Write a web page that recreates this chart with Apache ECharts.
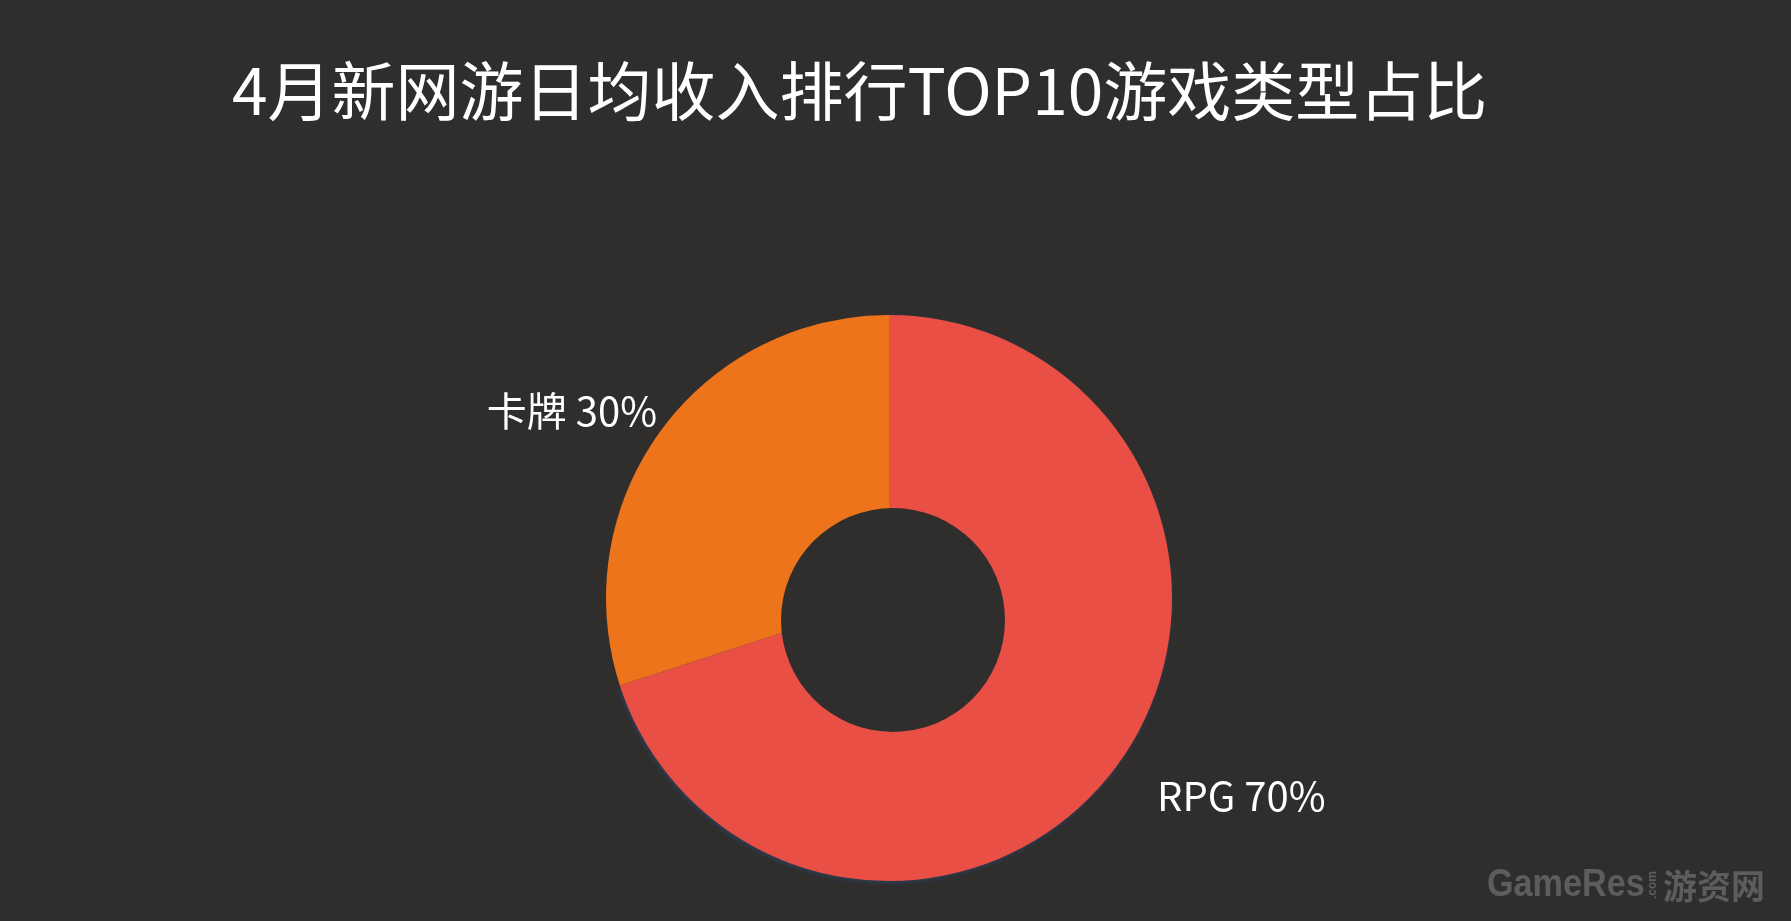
<!DOCTYPE html>
<html>
<head>
<meta charset="utf-8">
<style>
html,body{margin:0;padding:0;background:#302e2d;}
#main{width:1791px;height:921px;}
</style>
<script src="https://cdn.jsdelivr.net/npm/echarts@6/dist/echarts.min.js"></script>
</head>
<body>
<div id="main"></div>
<script>
const titleText = '4月新网游日均收入排行TOP10游戏类型占比';
const categories = ['RPG', '卡牌'];
const shares = [70, 30];
const colors = ['#e94f45', '#ee741c'];
const holeValue = [1];

const BG = '#302e2d';
const chart = echarts.init(document.getElementById('main'));
const FONT = '"Microsoft YaHei","Noto Sans CJK SC","Noto Sans",sans-serif';

chart.setOption({
  backgroundColor: BG,
  animation: false,
  title: {
    text: titleText,
    left: 227,
    top: 54,
    textStyle: {color: '#ffffff', fontSize: 64, fontWeight: 'normal', fontFamily: FONT}
  },
  series: [{
    type: 'pie',
    center: [889, 598],
    radius: [0, 283],
    startAngle: 90,
    clockwise: true,
    z: 2,
    data: categories.map((c, i) => ({
      name: c,
      value: shares[i],
      itemStyle: i === 0
        ? {color: colors[i], shadowBlur: 4, shadowColor: 'rgba(45,65,95,0.85)', shadowOffsetX: -1, shadowOffsetY: 2}
        : {color: colors[i]}
    })),
    label: {
      show: true,
      position: 'outside',
      formatter: '{b} {d}%',
      color: '#ffffff',
      fontSize: 40,
      fontFamily: FONT
    },
    labelLine: {show: false},
    labelLayout: function (p) {
      if (p.dataIndex === 0) {
        return {x: 1157, y: 796, align: 'left', verticalAlign: 'middle'};
      }
      return {x: 657, y: 411, align: 'right', verticalAlign: 'middle'};
    },
    emphasis: {disabled: true}
  }, {
    type: 'pie',
    center: [893, 620],
    radius: [0, 112],
    silent: true,
    z: 3,
    data: holeValue.map(v => ({value: v, itemStyle: {color: BG}})),
    label: {show: false},
    labelLine: {show: false},
    emphasis: {disabled: true}
  }],
  graphic: [
    {type: 'text', x: 1487, y: 886, scaleX: 0.9, style: {text: 'GameRes', fill: '#5d5d5d', font: 'bold 38px "Liberation Sans",Arial,sans-serif', textVerticalAlign: 'middle'}},
    {type: 'text', x: 1653, y: 885, rotation: Math.PI / 2, style: {text: '.com', fill: '#5d5d5d', font: 'bold 12px "Liberation Sans",sans-serif', textAlign: 'center', textVerticalAlign: 'middle'}},
    {type: 'text', x: 1663, y: 886, style: {text: '游资网', fill: '#5d5d5d', font: 'bold 34px "Noto Sans CJK SC",sans-serif', textVerticalAlign: 'middle'}}
  ]
});
</script>
</body>
</html>
